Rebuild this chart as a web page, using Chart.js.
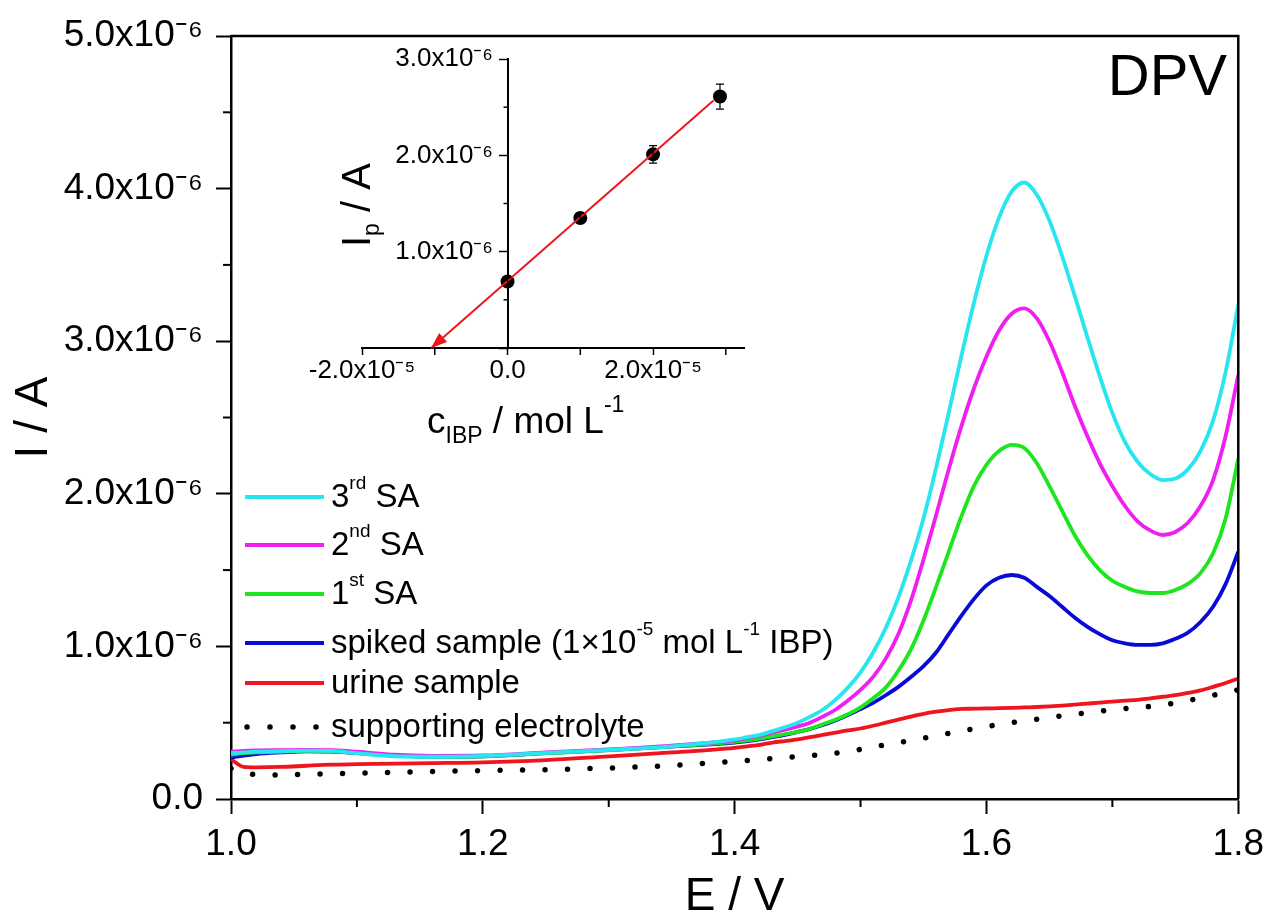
<!DOCTYPE html>
<html><head><meta charset="utf-8">
<script src="https://cdn.jsdelivr.net/npm/chart.js@4.4.1/dist/chart.umd.min.js"></script>
<style>
html,body{margin:0;padding:0;background:#fff;overflow:hidden;}
#wrap{position:relative;width:1273px;height:913px;background:#fff;}
#main{position:absolute;left:0;top:0;}
#inset{position:absolute;left:280px;top:30px;}
</style></head><body>
<div id="wrap"><canvas id="main" width="1273" height="913"></canvas><canvas id="inset" width="480" height="440"></canvas></div>
<script>
const FONT = "'Liberation Sans', Arial, Helvetica, sans-serif";

// ---------- Main DPV curves: potential E (V), current I in units of 1e-6 A ----------
const potentialE = [1.00,1.01,1.02,1.04,1.06,1.08,1.10,1.13,1.16,1.20,1.25,1.30,1.35,
  1.40,1.41,1.42,1.43,1.44,1.45,1.46,1.47,1.48,1.49,1.50,1.51,1.52,1.53,1.54,1.55,1.56,1.57,1.58,1.59,
  1.60,1.61,1.62,1.63,1.64,1.65,1.66,1.67,1.68,1.69,1.70,1.71,1.72,1.73,1.74,1.75,1.76,1.77,1.78,1.79,1.80];
const thirdSA = [0.30,0.305,0.31,0.313,0.317,0.315,0.30,0.28,0.277,0.283,0.302,0.322,0.345,
  0.39,0.405,0.42,0.445,0.47,0.50,0.54,0.585,0.65,0.73,0.83,0.96,1.12,1.32,1.56,1.84,2.17,2.53,2.90,3.25,
  3.56,3.81,3.98,4.04,3.96,3.79,3.56,3.30,3.03,2.77,2.53,2.34,2.21,2.13,2.09,2.10,2.16,2.28,2.48,2.80,3.24];
const secondSA = [0.31,0.315,0.318,0.32,0.322,0.32,0.31,0.29,0.283,0.285,0.305,0.325,0.35,
  0.385,0.40,0.415,0.435,0.455,0.475,0.50,0.54,0.585,0.645,0.715,0.80,0.92,1.08,1.30,1.57,1.86,2.16,2.44,2.69,
  2.90,3.07,3.18,3.215,3.15,3.00,2.80,2.58,2.38,2.20,2.05,1.92,1.82,1.76,1.73,1.75,1.81,1.92,2.09,2.38,2.78];
const firstSA = [0.29,0.30,0.305,0.31,0.315,0.313,0.303,0.285,0.278,0.28,0.30,0.32,0.345,
  0.375,0.385,0.395,0.41,0.425,0.44,0.46,0.49,0.52,0.555,0.60,0.66,0.73,0.84,0.98,1.17,1.39,1.62,1.85,2.05,
  2.19,2.28,2.32,2.30,2.20,2.05,1.89,1.73,1.60,1.50,1.43,1.39,1.36,1.35,1.35,1.37,1.41,1.48,1.61,1.84,2.23];
const spikedSample = [0.27,0.285,0.295,0.305,0.312,0.31,0.30,0.285,0.278,0.28,0.30,0.32,0.343,
  0.37,0.38,0.39,0.405,0.42,0.44,0.46,0.485,0.515,0.55,0.59,0.63,0.68,0.735,0.80,0.87,0.96,1.08,1.20,1.31,
  1.40,1.45,1.468,1.45,1.39,1.33,1.26,1.19,1.13,1.08,1.04,1.02,1.01,1.01,1.02,1.05,1.09,1.16,1.26,1.41,1.62];
const urineSample = [0.26,0.21,0.207,0.21,0.218,0.225,0.228,0.232,0.235,0.24,0.255,0.28,0.305,
  0.335,0.345,0.355,0.37,0.38,0.39,0.405,0.42,0.435,0.45,0.462,0.48,0.50,0.52,0.54,0.558,0.572,0.583,0.59,0.592,
  0.594,0.595,0.597,0.60,0.603,0.607,0.612,0.618,0.625,0.632,0.638,0.644,0.65,0.66,0.67,0.68,0.695,0.712,0.735,0.76,0.79];
const supportingElectrolyte = [0.20,0.17,0.16,0.157,0.162,0.166,0.17,0.175,0.18,0.186,0.192,0.203,0.22,
  0.247,0.252,0.258,0.265,0.272,0.278,0.285,0.292,0.30,0.312,0.325,0.34,0.355,0.37,0.383,0.398,0.413,0.43,0.445,0.46,
  0.475,0.488,0.50,0.512,0.523,0.534,0.545,0.555,0.565,0.575,0.585,0.593,0.60,0.607,0.615,0.63,0.645,0.662,0.68,0.697,0.715];

const xTickLabels = ['1.0','1.2','1.4','1.6','1.8'];
const yTickLabels = ['0.0','1.0x10\u207B\u2076','2.0x10\u207B\u2076','3.0x10\u207B\u2076','4.0x10\u207B\u2076','5.0x10\u207B\u2076'];

const seriesNames  = ['3rd SA','2nd SA','1st SA','spiked sample (1×10-5 mol L-1 IBP)','urine sample','supporting electrolyte'];
const seriesColors = ['#27E6F0','#F01EF0','#1EE61E','#0A0AD6','#F0141E','#000000'];
const legendLabels = [
  [['3'],['rd','sup'],[' SA']],
  [['2'],['nd','sup'],[' SA']],
  [['1'],['st','sup'],[' SA']],
  [['spiked sample (1\u00D710'],['-5','sup'],[' mol L'],['-1','sup'],[' IBP)']],
  [['urine sample']],
  [['supporting electrolyte']]
];

// ---------- Inset: standard addition plot (c in 1e-5 mol/L, Ip in 1e-6 A) ----------
const insetConc  = [0, 1, 2, 2.92];
const insetIp    = [0.69, 1.35, 2.01, 2.61];
const insetIpErr = [0.04, 0.05, 0.09, 0.13];
const fitConc = [2.83, -1.05];
const fitIp   = [2.57, 0];
const insetXTickLabels = ['-2.0x10\u207B\u2075','0.0','2.0x10\u207B\u2075'];
const insetYTickLabels = ['','1.0x10\u207B\u2076','2.0x10\u207B\u2076','3.0x10\u207B\u2076'];

// ---------- helpers ----------
function drawRich(ctx, x, y, parts, base, small, supDy, subDy) {
  for (const [t, kind] of parts) {
    ctx.font = (kind ? small : base) + 'px ' + FONT;
    const dy = kind === 'sup' ? supDy : (kind === 'sub' ? subDy : 0);
    ctx.fillText(t, x, y + dy);
    x += ctx.measureText(t).width;
  }
  return x;
}
function minorTicks(ctx, scale, len, horizontal, edge) {
  const t = scale.ticks.map(k => k.value);
  if (t.length < 2) return;
  const step = t[1] - t[0];
  for (let v = t[0] + step / 2; v <= scale.max + 1e-9; v += step) {
    const p = scale.getPixelForValue(v);
    ctx.beginPath();
    if (horizontal) { ctx.moveTo(p, edge); ctx.lineTo(p, edge + len); }
    else { ctx.moveTo(edge, p); ctx.lineTo(edge - len, p); }
    ctx.stroke();
  }
}

// ---------- main chart ----------
const mainDatasets = [thirdSA, secondSA, firstSA, spikedSample, urineSample, supportingElectrolyte].map((vals, k) => {
  const ds = {
    label: seriesNames[k],
    data: potentialE.map((e, i) => ({x: e, y: vals[i]})),
    borderColor: seriesColors[k],
    backgroundColor: seriesColors[k],
    borderWidth: 3.8,
    pointRadius: 0,
    fill: false,
    cubicInterpolationMode: 'monotone'
  };
  if (k === 5) { ds.borderDash = [0.001, 22.5]; ds.borderCapStyle = 'round'; ds.borderWidth = 5.5; }
  return ds;
});

const mainDecor = {
  id: 'mainDecor',
  afterDraw(chart) {
    const {ctx, chartArea: a, scales: {x, y}} = chart;
    ctx.save();
    ctx.strokeStyle = '#000';
    ctx.lineWidth = 2.5;
    ctx.beginPath(); ctx.moveTo(a.left, a.top); ctx.lineTo(a.right, a.top); ctx.lineTo(a.right, a.bottom); ctx.stroke();
    ctx.lineWidth = 2;
    minorTicks(ctx, x, 8, true, a.bottom);
    minorTicks(ctx, y, 8, false, a.left);
    // legend
    const rows = [497, 545, 594, 643, 683, 727];
    legendLabels.forEach((parts, k) => {
      const ly = rows[k];
      ctx.save();
      ctx.strokeStyle = seriesColors[k];
      if (k === 5) { ctx.setLineDash([0.001, 23]); ctx.lineCap = 'round'; ctx.lineWidth = 5.5; }
      else { ctx.lineWidth = 4; }
      ctx.beginPath(); ctx.moveTo(k === 5 ? 247 : 245, ly); ctx.lineTo(324, ly); ctx.stroke();
      ctx.restore();
      ctx.fillStyle = '#000';
      ctx.textBaseline = 'alphabetic';
      ctx.textAlign = 'left';
      drawRich(ctx, 331, ly + 10, parts, 33, 19, -18, 0);
    });
    // DPV label
    ctx.font = '58px ' + FONT;
    ctx.textAlign = 'right';
    ctx.fillStyle = '#000';
    ctx.fillText('DPV', 1227, 95);
    ctx.restore();
  }
};

new Chart(document.getElementById('main'), {
  type: 'line',
  data: {datasets: mainDatasets},
  options: {
    responsive: false, animation: false, devicePixelRatio: 1,
    layout: {padding: {left: 0, right: 32, top: 36, bottom: 0}},
    plugins: {legend: {display: false}, tooltip: {enabled: false}},
    scales: {
      x: {
        type: 'linear', min: 1.0, max: 1.8,
        ticks: {stepSize: 0.2, color: '#000', font: {family: FONT, size: 37}, padding: 9, maxRotation: 0, autoSkip: false,
                callback: (v, i) => xTickLabels[i] ?? ''},
        grid: {drawOnChartArea: false, drawTicks: true, tickLength: 15, tickWidth: 2, tickColor: '#000'},
        border: {display: true, color: '#000', width: 2.5},
        title: {display: true, text: 'E / V', color: '#000', font: {family: FONT, size: 46, lineHeight: 0.7}, padding: 0},
        afterFit: s => { s.height = 114; }
      },
      y: {
        type: 'linear', min: 0, max: 5,
        ticks: {stepSize: 1, color: '#000', font: {family: FONT, size: 37}, padding: 13, autoSkip: false,
                callback: (v, i) => yTickLabels[i] ?? ''},
        grid: {drawOnChartArea: false, drawTicks: true, tickLength: 15, tickWidth: 2, tickColor: '#000'},
        border: {display: true, color: '#000', width: 2.5},
        title: {display: true, text: 'I / A', color: '#000', font: {family: FONT, size: 46}, padding: {top: 7, bottom: 0}},
        afterFit: s => { s.width = 231; }
      }
    }
  },
  plugins: [mainDecor]
});

// ---------- inset chart ----------
const insetDecor = {
  id: 'insetDecor',
  afterDraw(chart) {
    const {ctx, chartArea: a, scales: {x, y}} = chart;
    ctx.save();
    ctx.strokeStyle = '#000';
    ctx.lineWidth = 1.5;
    minorTicks(ctx, x, 7, true, a.bottom);
    minorTicks(ctx, y, 4, false, x.getPixelForValue(0));
    // error bars
    ctx.lineWidth = 1.2;
    insetConc.forEach((c, i) => {
      const px = x.getPixelForValue(c);
      const t = y.getPixelForValue(insetIp[i] + insetIpErr[i]);
      const b = y.getPixelForValue(insetIp[i] - insetIpErr[i]);
      ctx.beginPath();
      ctx.moveTo(px, t); ctx.lineTo(px, b);
      ctx.moveTo(px - 4, t); ctx.lineTo(px + 4, t);
      ctx.moveTo(px - 4, b); ctx.lineTo(px + 4, b);
      ctx.stroke();
    });
    // arrow head at the extrapolated end of the fit line
    const x0 = x.getPixelForValue(fitConc[0]), y0 = y.getPixelForValue(fitIp[0]);
    const x1 = x.getPixelForValue(fitConc[1]), y1 = y.getPixelForValue(fitIp[1]);
    const ang = Math.atan2(y1 - y0, x1 - x0);
    const L = 16, W = 6;
    ctx.fillStyle = '#F0141E';
    ctx.beginPath();
    ctx.moveTo(x1, y1);
    ctx.lineTo(x1 - L * Math.cos(ang) + W * Math.sin(ang), y1 - L * Math.sin(ang) - W * Math.cos(ang));
    ctx.lineTo(x1 - L * Math.cos(ang) - W * Math.sin(ang), y1 - L * Math.sin(ang) + W * Math.cos(ang));
    ctx.closePath();
    ctx.fill();
    // axis titles with sub/superscripts
    ctx.fillStyle = '#000';
    ctx.textAlign = 'left';
    ctx.textBaseline = 'alphabetic';
    ctx.save();
    ctx.translate(90, 217);
    ctx.rotate(-Math.PI / 2);
    drawRich(ctx, 0, 0, [['I'], ['p', 'sub'], [' / A']], 40, 23, 0, 9);
    ctx.restore();
    drawRich(ctx, 147, 403, [['c'], ['IBP', 'sub'], [' / mol L'], ['-1', 'sup']], 37, 23, -21, 10);
    ctx.restore();
  }
};

new Chart(document.getElementById('inset'), {
  type: 'scatter',
  data: {datasets: [
    {type: 'line', label: 'fit', data: fitConc.map((c, i) => ({x: c, y: fitIp[i]})),
     borderColor: '#F0141E', borderWidth: 2, pointRadius: 0, fill: false, clip: false},
    {type: 'scatter', label: 'Ip', data: insetConc.map((c, i) => ({x: c, y: insetIp[i]})),
     pointRadius: 7, pointBackgroundColor: '#000', pointBorderColor: '#000', borderWidth: 0}
  ]},
  options: {
    responsive: false, animation: false, devicePixelRatio: 1,
    layout: {padding: {left: 82, right: 16, top: 29, bottom: 0}},
    plugins: {legend: {display: false}, tooltip: {enabled: false}},
    scales: {
      x: {
        type: 'linear', min: -2, max: 3.25,
        ticks: {stepSize: 2, includeBounds: false, color: '#000', font: {family: FONT, size: 26}, padding: 0, maxRotation: 0, autoSkip: false,
                callback: (v, i) => insetXTickLabels[i] ?? ''},
        grid: {drawOnChartArea: false, drawTicks: true, tickLength: 7, tickWidth: 1.5, tickColor: '#000'},
        border: {display: true, color: '#000', width: 2},
        afterFit: s => { s.height = 122; }
      },
      y: {
        type: 'linear', min: 0, max: 3, position: {x: 0},
        ticks: {stepSize: 1, color: '#000', font: {family: FONT, size: 26}, autoSkip: false,
                callback: (v, i) => (insetYTickLabels[i] ? insetYTickLabels[i] + '  ' : '')},
        grid: {drawOnChartArea: false, drawTicks: true, tickLength: 8, tickWidth: 1.5, tickColor: '#000'},
        border: {display: true, color: '#000', width: 2}
      }
    }
  },
  plugins: [insetDecor]
});
</script>
</body></html>
